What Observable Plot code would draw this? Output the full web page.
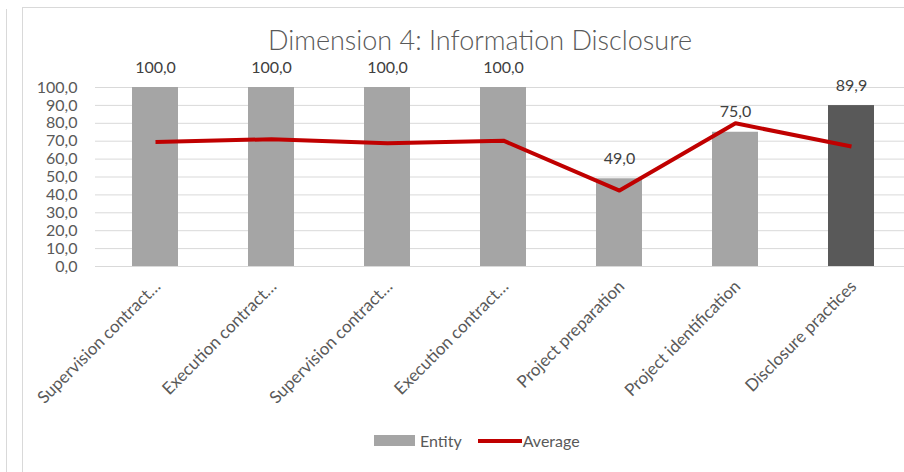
<!DOCTYPE html>
<html>
<head>
<meta charset="utf-8">
<script src="https://cdn.jsdelivr.net/npm/d3@7"></script>
<script src="https://cdn.jsdelivr.net/npm/@observablehq/plot@0.6"></script>
<style>
  html, body { margin: 0; padding: 0; background: #fff; overflow: hidden; }
  #wrap { position: relative; width: 904px; height: 472px; overflow: hidden; font-family: Lato, "Open Sans", sans-serif; color: #595959; }
  #chart { position: absolute; left: 0; top: 0; width: 920px; height: 472px; }
  #chart svg { max-width: none !important; }
  .frame { position: absolute; border-color: #d9d9d9; border-style: solid; border-width: 0; }
  #title { position: absolute; left: 0; width: 960px; top: 26px; height: 27px; line-height: 27px; text-align: center; font-size: 27px; font-weight: 300; color: #595959; white-space: nowrap; }
  #legend { position: absolute; top: 431px; left: 374px; font-size: 16px; color: #595959; display: flex; align-items: center; white-space: nowrap; }
  .sw-bar { display: inline-block; width: 41px; height: 11px; background: #a5a5a5; margin-right: 5px; }
  .sw-line { display: inline-block; width: 44px; height: 4px; background: #c00000; margin-left: 16px; margin-right: 1px; }
</style>
</head>
<body>
<div id="wrap">
  <div class="frame" style="left:6px; top:9px; height:480px; border-left-width:1px;"></div>
  <div class="frame" style="left:22px; top:7px; width:900px; height:480px; border-left-width:1px; border-top-width:1px;"></div>
  <div id="chart"></div>
  <div id="title">Dimension 4: Information Disclosure</div>
  <div id="legend"><span class="sw-bar"></span><span>Entity</span><span class="sw-line"></span><span>Average</span></div>
</div>
<script>
const categories = [
  "Supervision contract…",
  "Execution contract…",
  "Supervision contract…",
  "Execution contract…",
  "Project preparation",
  "Project identification",
  "Disclosure practices"
];
const entity = [100.0, 100.0, 100.0, 100.0, 49.0, 75.0, 89.9];
const average = [69.6, 71.1, 68.8, 70.3, 42.4, 80.0, 67.0];
const barColors = ["#a5a5a5", "#a5a5a5", "#a5a5a5", "#a5a5a5", "#a5a5a5", "#a5a5a5", "#595959"];
const yTicks = [0, 10, 20, 30, 40, 50, 60, 70, 80, 90, 100];

const fmt = v => v.toFixed(1).replace(".", ",");
const rows = categories.map((c, i) => ({i, label: c, entity: entity[i], average: average[i], color: barColors[i]}));

const chart = Plot.plot({
  width: 920,
  height: 472,
  marginLeft: 95,
  marginRight: 10,
  marginTop: 87,
  marginBottom: 206,
  style: {fontFamily: "Lato, 'Open Sans', sans-serif", color: "#595959", background: "transparent", overflow: "visible", maxWidth: "none"},
  x: {domain: rows.map(d => d.i), paddingInner: 0.605, paddingOuter: 0.3025, axis: null},
  y: {domain: [0, 100], axis: null},
  marks: [
    Plot.ruleY(yTicks, {stroke: "#d9d9d9", strokeWidth: 1}),
    Plot.text(yTicks, {y: d => d, text: d => fmt(d), frameAnchor: "left", textAnchor: "end", dx: -18, fontSize: 16, fill: "#595959"}),
    Plot.barY(rows, {x: "i", y: "entity", fill: "color"}),
    Plot.line(rows, {x: "i", y: "average", stroke: "#c00000", strokeWidth: 4, strokeLinejoin: "round", strokeLinecap: "butt"}),
    Plot.text(rows, {x: "i", y: "entity", text: d => fmt(d.entity), dy: -20, fontSize: 16, fill: "#404040"}),
    Plot.text(rows, {x: "i", text: "label", frameAnchor: "bottom", rotate: -45, textAnchor: "end", dy: 21, dx: 6, fontSize: 17, fill: "#595959"})
  ]
});
document.getElementById("chart").appendChild(chart);
</script>
</body>
</html>
